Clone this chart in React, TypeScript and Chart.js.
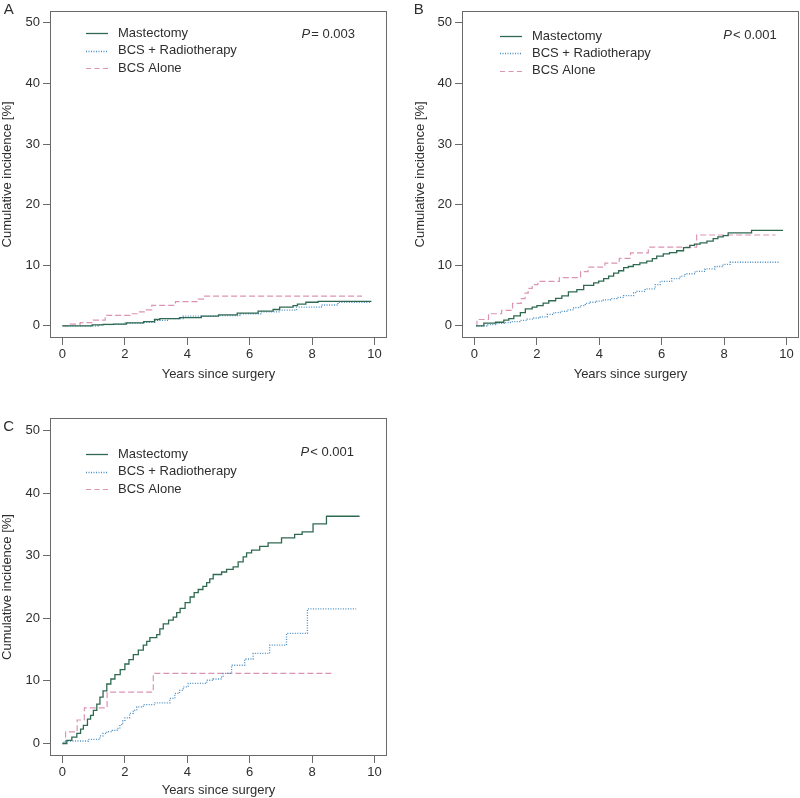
import React, { useEffect, useRef } from "react";
import { Chart, registerables } from "chart.js";

Chart.register(...registerables);

const FONT = '"Liberation Sans", Arial, Helvetica, sans-serif';
const TEXT = "#2e2e2e";
const AXIS = "#6a6a6a";

// ---------------- Data ----------------
const X_TICKS = [0, 2, 4, 6, 8, 10];
const Y_TICKS = [0, 10, 20, 30, 40, 50];
const SERIES_NAMES = ["Mastectomy", "BCS + Radiotherapy", "BCS Alone"];
const X_TITLE = "Years since surgery";
const Y_TITLE = "Cumulative incidence [%]";

// Panel A
const A_MAST_T = [0, 0.95, 1.3, 1.65, 2.05, 2.6, 2.95, 3.12, 3.75, 4.45, 5.0, 5.6, 6.27, 6.75, 6.96, 7.39, 7.53, 7.8, 8.19, 9.9];
const A_MAST_V = [0, 0.15, 0.25, 0.3, 0.5, 0.7, 1.05, 1.2, 1.35, 1.6, 1.8, 2.1, 2.45, 2.7, 3.1, 3.35, 3.6, 3.9, 4.05, 4.05];
const A_RT_T = [0, 1.15, 1.6, 2.0, 2.6, 2.96, 3.39, 3.87, 5.05, 5.68, 6.38, 6.96, 7.5, 8.3, 8.83, 9.9];
const A_RT_V = [0, 0.2, 0.3, 0.45, 0.6, 0.9, 1.2, 1.6, 1.7, 2.0, 2.3, 2.6, 3.1, 3.45, 3.9, 3.9];
const A_ALONE_T = [0, 0.25, 0.57, 0.99, 1.37, 2.16, 2.43, 2.64, 2.86, 3.62, 4.35, 4.56, 9.6];
const A_ALONE_V = [0.05, 0.3, 0.55, 0.95, 1.75, 2.0, 2.3, 2.65, 3.4, 4.0, 4.4, 4.9, 4.9];

// Panel B
const B_MAST_T = [0.05, 0.3, 0.67, 0.94, 1.1, 1.26, 1.47, 1.63, 1.85, 2.0, 2.2, 2.38, 2.6, 2.8, 3.01, 3.28, 3.5, 3.82, 3.98, 4.14, 4.3, 4.46, 4.62, 4.78, 4.93, 5.09, 5.3, 5.52, 5.7, 5.84, 6.05, 6.25, 6.48, 6.7, 6.9, 7.05, 7.23, 7.45, 7.65, 7.8, 7.97, 8.13, 8.88, 9.89];
const B_MAST_V = [0, 0.45, 0.6, 0.95, 1.2, 1.65, 2.2, 2.8, 3.1, 3.35, 3.75, 4.15, 4.55, 4.95, 5.6, 6.0, 6.7, 7.1, 7.4, 7.8, 8.2, 8.7, 9.1, 9.6, 9.8, 10.1, 10.4, 10.7, 11.1, 11.5, 11.9, 12.1, 12.4, 12.9, 13.3, 13.5, 13.7, 14.0, 14.4, 14.7, 14.9, 15.35, 15.75, 15.75];
const B_RT_T = [0.05, 0.4, 0.72, 0.95, 1.15, 1.45, 1.69, 1.9, 2.11, 2.33, 2.54, 2.75, 2.96, 3.18, 3.39, 3.55, 3.71, 3.92, 4.13, 4.35, 4.56, 4.78, 5.1, 5.2, 5.47, 5.79, 5.95, 6.32, 6.59, 6.75, 7.07, 7.39, 7.71, 7.97, 8.19, 9.79];
const B_RT_V = [0, 0.2, 0.4, 0.55, 0.7, 0.9, 1.1, 1.3, 1.5, 1.9, 2.2, 2.4, 2.65, 3.0, 3.35, 3.7, 3.9, 4.1, 4.3, 4.5, 4.7, 5.0, 5.5, 5.7, 6.1, 6.8, 7.35, 7.8, 8.2, 8.6, 9.0, 9.4, 9.8, 10.15, 10.5, 10.5];
const B_ALONE_T = [0.05, 0.08, 0.45, 0.87, 1.22, 1.5, 1.62, 1.72, 1.85, 2.03, 2.72, 3.4, 3.64, 4.18, 4.64, 5.0, 5.57, 7.12, 9.65];
const B_ALONE_V = [0, 1.05, 2.0, 2.55, 3.7, 4.5, 5.4, 6.2, 6.8, 7.35, 7.95, 8.95, 9.7, 10.35, 11.15, 12.05, 13.0, 15.0, 15.0];

// Panel C
const C_MAST_T = [0, 0.14, 0.3, 0.46, 0.58, 0.67, 0.8, 0.9, 0.99, 1.1, 1.2, 1.3, 1.42, 1.55, 1.68, 1.85, 2.0, 2.13, 2.27, 2.43, 2.59, 2.7, 2.8, 3.02, 3.12, 3.23, 3.4, 3.55, 3.66, 3.77, 3.93, 4.09, 4.22, 4.35, 4.5, 4.62, 4.72, 4.83, 5.1, 5.26, 5.47, 5.63, 5.79, 5.9, 6.06, 6.32, 6.59, 7.02, 7.44, 7.68, 8.03, 8.46, 9.52];
const C_MAST_V = [0, 0.5, 1.0, 1.6, 2.3, 2.9, 3.9, 4.5, 5.3, 6.3, 7.4, 8.4, 9.5, 10.3, 11.0, 11.8, 12.7, 13.4, 14.2, 14.9, 15.7, 16.3, 16.9, 17.4, 18.3, 19.1, 19.7, 20.2, 20.9, 21.6, 22.5, 23.4, 24.1, 24.6, 25.1, 25.7, 26.3, 27.0, 27.4, 27.8, 28.2, 29.0, 29.8, 30.45, 30.9, 31.5, 32.05, 32.85, 33.4, 33.8, 35.1, 36.3, 36.3];
const C_RT_T = [0, 0.05, 0.83, 1.2, 1.3, 1.42, 1.6, 1.75, 1.84, 1.93, 2.0, 2.15, 2.27, 2.38, 2.59, 2.96, 3.44, 3.6, 3.75, 3.87, 4.03, 4.62, 4.83, 5.1, 5.15, 5.42, 5.84, 6.11, 6.64, 7.18, 7.85, 9.41];
const C_RT_V = [0, 0.4, 0.65, 1.2, 1.6, 1.9, 2.1, 2.4, 3.0, 3.6, 4.1, 4.8, 5.3, 5.85, 6.2, 6.5, 7.2, 8.0, 8.5, 9.05, 9.6, 10.1, 10.3, 10.6, 11.2, 12.5, 13.5, 14.4, 15.7, 17.6, 21.5, 21.5];
const C_ALONE_T = [0, 0.1, 0.47, 0.7, 1.43, 2.91, 8.67];
const C_ALONE_V = [0, 1.85, 3.75, 5.7, 8.2, 11.2, 11.2];

const P_OPS = ["=", "<", "<"];
const P_VALUES = ["0.003", "0.001", "0.001"];
const PANEL_LETTERS = ["A", "B", "C"];

// ---------------- Styles / layout ----------------
const STYLES = [
  { color: "#2f6a50", dash: [] as number[], legendDash: [] as number[], width: 1.3 },
  { color: "#4a8fc4", dash: [1, 1.5], legendDash: [1, 1.5], width: 1.3 },
  { color: "#dc94b4", dash: [6, 3], legendDash: [5, 3.5], width: 1.2 },
];

type Layout = {
  left: number; top: number; w: number; h: number;
  pad: { left: number; top: number; right: number; bottom: number };
  yW: number; xH: number;
  letter: [number, number];
  legend: { x1: number; x2: number; tx: number; ys: number[] };
  p: [number, number];
};

const LAYOUTS: Layout[] = [
  {
    left: 0, top: 0, w: 400, h: 390,
    pad: { left: 0, top: 1, right: 13, bottom: 8 }, yW: 50, xH: 44,
    letter: [8.7, 10], legend: { x1: 86, x2: 108, tx: 118, ys: [33.3, 50.7, 68] }, p: [355, 34.3],
  },
  {
    left: 400, top: 0, w: 400, h: 390,
    pad: { left: 13, top: 1, right: 1, bottom: 8 }, yW: 49, xH: 44,
    letter: [18.7, 9.7], legend: { x1: 100, x2: 122, tx: 132, ys: [36, 53.3, 70.7] }, p: [376.7, 35],
  },
  {
    left: 0, top: 390, w: 400, h: 408,
    pad: { left: 0, top: 28, right: 13, bottom: 0 }, yW: 50, xH: 42,
    letter: [8.7, 37], legend: { x1: 86, x2: 108, tx: 118, ys: [64.3, 81.7, 99.3] }, p: [354, 62.3],
  },
];

const PANEL_SERIES: [number[], number[]][][] = [
  [[A_MAST_T, A_MAST_V], [A_RT_T, A_RT_V], [A_ALONE_T, A_ALONE_V]],
  [[B_MAST_T, B_MAST_V], [B_RT_T, B_RT_V], [B_ALONE_T, B_ALONE_V]],
  [[C_MAST_T, C_MAST_V], [C_RT_T, C_RT_V], [C_ALONE_T, C_ALONE_V]],
];

function PanelChart({ idx }: { idx: number }) {
  const ref = useRef<HTMLCanvasElement | null>(null);
  const L = LAYOUTS[idx];

  useEffect(() => {
    if (!ref.current) return;
    const series = PANEL_SERIES[idx];

    const decor = {
      id: "decor" + idx,
      beforeDatasetsDraw(chart: any) {
        const { ctx, chartArea: a } = chart;
        ctx.save();
        ctx.strokeStyle = AXIS;
        ctx.lineWidth = 1;
        const l = Math.round(a.left) + 0.5, t = Math.round(a.top) + 0.5;
        const r = Math.round(a.right) - 0.5, b = Math.round(a.bottom) - 0.5;
        ctx.strokeRect(l, t, r - l, b - t);
        ctx.restore();
      },
      afterDraw(chart: any) {
        const { ctx } = chart;
        ctx.save();
        // panel letter
        ctx.fillStyle = TEXT;
        ctx.font = `15px ${FONT}`;
        ctx.textAlign = "center";
        ctx.textBaseline = "middle";
        ctx.fillText(PANEL_LETTERS[idx], L.letter[0], L.letter[1]);
        // legend
        ctx.font = `13px ${FONT}`;
        ctx.textAlign = "left";
        SERIES_NAMES.forEach((name, i) => {
          const y = L.legend.ys[i];
          const st = STYLES[i];
          ctx.strokeStyle = st.color;
          ctx.lineWidth = st.width;
          ctx.setLineDash(st.legendDash);
          ctx.beginPath();
          ctx.moveTo(L.legend.x1, Math.round(y) + 0.5);
          ctx.lineTo(L.legend.x2, Math.round(y) + 0.5);
          ctx.stroke();
          ctx.setLineDash([]);
          ctx.fillStyle = TEXT;
          ctx.fillText(name, L.legend.tx, y);
        });
        // P value
        const rest = `${P_OPS[idx]} ${P_VALUES[idx]}`;
        ctx.textAlign = "right";
        ctx.font = `13px ${FONT}`;
        const wRest = ctx.measureText(rest).width;
        ctx.fillText(rest, L.p[0], L.p[1]);
        ctx.font = `italic 13px ${FONT}`;
        ctx.fillText("P", L.p[0] - wRest - 1, L.p[1]);
        ctx.restore();
      },
    };

    const tickFont = { family: FONT, size: 13 };
    const chart = new Chart(ref.current, {
      type: "line",
      data: {
        datasets: series.map(([ts, vs], i) => ({
          label: SERIES_NAMES[i],
          data: ts.map((t, k) => ({ x: t, y: vs[k] })),
          borderColor: STYLES[i].color,
          borderWidth: STYLES[i].width,
          borderDash: STYLES[i].dash,
          stepped: true,
          pointRadius: 0,
          fill: false,
          tension: 0,
        })),
      },
      options: {
        animation: false,
        responsive: false,
        events: [],
        layout: { padding: L.pad },
        plugins: { legend: { display: false }, tooltip: { enabled: false } },
        scales: {
          x: {
            type: "linear",
            min: -0.4,
            max: 10.4,
            afterBuildTicks: (s: any) => { s.ticks = X_TICKS.map((v) => ({ value: v })); },
            afterFit: (s: any) => { s.height = L.xH; },
            grid: { drawOnChartArea: false, drawTicks: true, tickLength: 7, color: AXIS, tickColor: AXIS, lineWidth: 1 },
            border: { display: false },
            ticks: { color: TEXT, font: tickFont, padding: 2, maxRotation: 0, autoSkip: false },
            title: { display: true, text: X_TITLE, color: TEXT, font: tickFont, padding: { top: 0, bottom: 0 } },
          },
          y: {
            type: "linear",
            min: -2,
            max: 52,
            afterBuildTicks: (s: any) => { s.ticks = Y_TICKS.map((v) => ({ value: v })); },
            afterFit: (s: any) => { s.width = L.yW; },
            grid: { drawOnChartArea: false, drawTicks: true, tickLength: 7, color: AXIS, tickColor: AXIS, lineWidth: 1 },
            border: { display: false },
            ticks: { color: TEXT, font: tickFont, padding: 3, autoSkip: false },
            title: { display: true, text: Y_TITLE, color: TEXT, font: tickFont, padding: { top: 0, bottom: 0 } },
          },
        },
      },
      plugins: [decor],
    } as any);
    return () => chart.destroy();
  }, [idx]);

  return (
    <canvas
      ref={ref}
      width={L.w}
      height={L.h}
      style={{ position: "absolute", left: L.left, top: L.top, width: L.w, height: L.h, display: "block" }}
    />
  );
}

export default function App() {
  return (
    <div
      style={{
        position: "fixed", left: 0, top: 0, width: 800, height: 798,
        overflow: "hidden", background: "#ffffff",
      }}
    >
      {[0, 1, 2].map((i) => <PanelChart key={i} idx={i} />)}
    </div>
  );
}
